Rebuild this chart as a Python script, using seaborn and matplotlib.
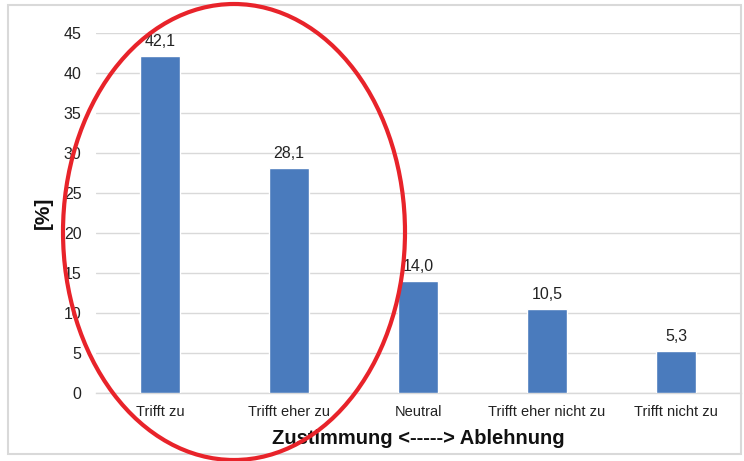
import matplotlib
matplotlib.use("Agg")
import matplotlib.pyplot as plt
import seaborn as sns
import pandas as pd
from matplotlib.patches import Ellipse, Rectangle

categories = ["Trifft zu", "Trifft eher zu", "Neutral", "Trifft eher nicht zu", "Trifft nicht zu"]
values = [42.1, 28.1, 14.0, 10.5, 5.3]
yticks = [0, 5, 10, 15, 20, 25, 30, 35, 40, 45]

sns.set_theme(style="white")
plt.rcParams['font.family'] = ['Liberation Sans', 'DejaVu Sans']

df = pd.DataFrame({"cat": categories, "val": values})

fig = plt.figure(figsize=(7.44, 4.61), dpi=100)
ax = fig.add_axes([95.5/744, 1-393/461, 645/744, 360/461])

sns.barplot(data=df, x="cat", y="val", color="#4a7bbd", width=0.31, ax=ax,
            saturation=1, zorder=3)

ax.set_ylim(0, 45)
ax.set_yticks(yticks)
ax.set_xlim(-0.5, len(categories)-0.5)
ax.yaxis.grid(True, color="#d9d9d9", linewidth=1.0, zorder=0)
ax.set_axisbelow(True)
for s in ["top", "right", "left"]:
    ax.spines[s].set_visible(False)
ax.spines["bottom"].set_color("#d9d9d9")
ax.spines["bottom"].set_linewidth(1.0)
ax.tick_params(axis="y", length=0, labelsize=11.5, colors="#222222", pad=10)
ax.tick_params(axis="x", length=0, labelsize=10.5, colors="#222222", pad=9)

for i, v in enumerate(values):
    ax.annotate(f"{v:.1f}".replace(".", ","), (i, v), xytext=(0, 5),
                textcoords="offset points", ha="center", va="bottom",
                fontsize=11.5, color="#222222")

ax.set_xlabel("Zustimmung <-----> Ablehnung", fontsize=14.5, fontweight="bold",
              color="#111111", labelpad=6.5)
ax.set_ylabel("[%]", fontsize=15, fontweight="bold", color="#111111", labelpad=8)

# outer border
fig.patches.append(Rectangle((8/744, 1-454/461), 733/744, 449/461,
                             transform=fig.transFigure, fill=False,
                             edgecolor="#d9d9d9", linewidth=1.5))

# red ellipse
fig.patches.append(Ellipse((234/744, 1-232/461), 342/744, 456/461,
                           transform=fig.transFigure, fill=False,
                           edgecolor="#e8232a", linewidth=3, zorder=10))

fig.savefig("out.png", dpi=100)
